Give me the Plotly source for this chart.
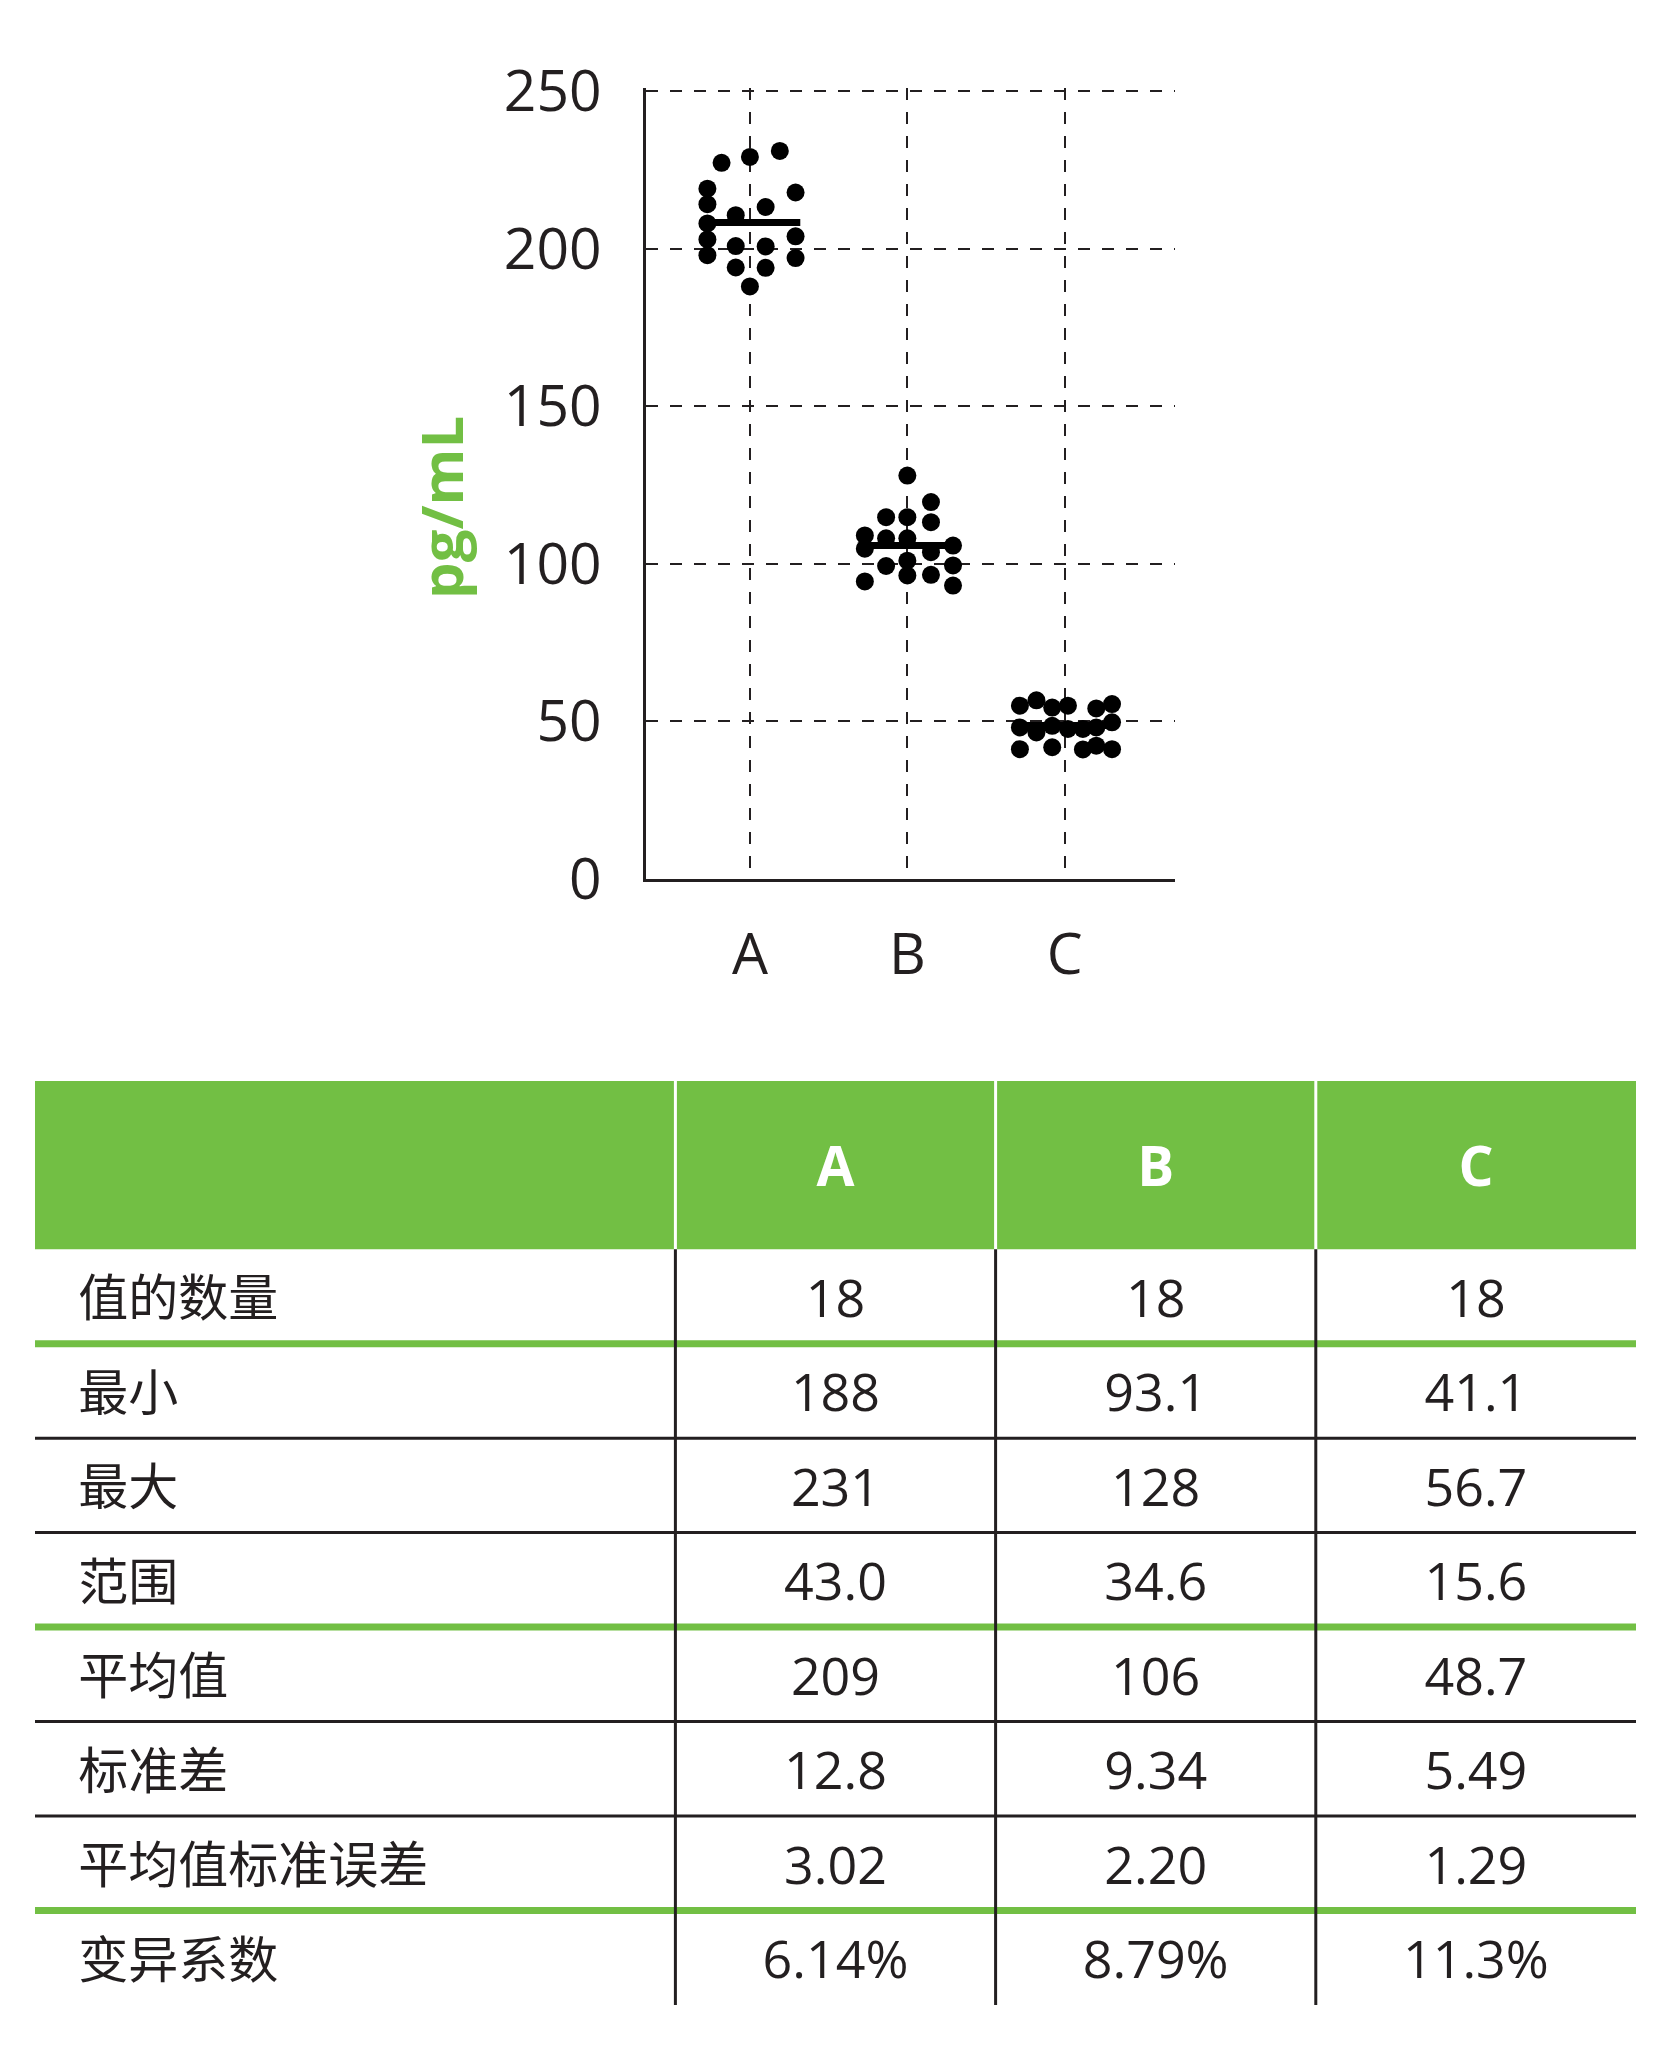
import plotly.graph_objects as go

# ---------------- data ----------------
categories = ["A", "B", "C"]

a_values = [227.2, 229.1, 231.0, 219.0, 217.8, 214.1, 213.2, 210.6, 208.0,
            202.9, 203.9, 200.8, 200.7, 197.9, 197.0, 194.0, 193.9, 188.0]
a_jitter = [-0.18, 0.0, 0.19, -0.27, 0.29, -0.27, 0.10, -0.09, -0.27,
            -0.27, 0.29, -0.09, 0.10, -0.27, 0.29, -0.09, 0.10, 0.0]

b_values = [128.0, 119.6, 114.8, 114.8, 113.2, 109.0, 108.1, 108.1, 104.8,
            103.7, 105.8, 101.0, 99.3, 99.5, 96.3, 96.5, 94.4, 93.1]
b_jitter = [0.0, 0.15, -0.135, 0.0, 0.15, -0.27, -0.135, 0.0, -0.27,
            0.15, 0.29, 0.0, -0.135, 0.29, 0.0, 0.15, -0.27, 0.29]

c_values = [55.0, 56.7, 54.4, 55.0, 54.1, 55.5,
            48.1, 46.5, 48.6, 47.6, 47.6, 48.1, 49.7,
            41.2, 41.8, 41.1, 42.3, 41.2]
c_jitter = [-0.285, -0.18, -0.08, 0.02, 0.20, 0.30,
            -0.285, -0.18, -0.08, 0.02, 0.115, 0.20, 0.30,
            -0.285, -0.08, 0.115, 0.20, 0.30]

mean_lines = [208.3, 105.8, 48.7]

y_ticks = [0, 50, 100, 150, 200, 250]

row_labels = ["值的数量", "最小", "最大", "范围", "平均值", "标准差", "平均值标准误差", "变异系数"]
col_a = ["18", "188", "231", "43.0", "209", "12.8", "3.02", "6.14%"]
col_b = ["18", "93.1", "128", "34.6", "106", "9.34", "2.20", "8.79%"]
col_c = ["18", "41.1", "56.7", "15.6", "48.7", "5.49", "1.29", "11.3%"]
green_breaks = [0, 3, 6]   # rows followed by a green separator

# ---------------- style ----------------
W, H = 1671, 2048
GREEN = "#72bf44"
INK = "#231f20"
MEAN_SPAN = (-0.26, 0.32)
HEADER_ROWS = 1.78
COL_EDGES = [0, 2, 3, 4, 5]
Y_MAX = 251
TEXT_NUDGE = 0.08   # optical baseline shift inside table cells

def px_x(p):
    return p / W

def px_y(p):
    return 1 - p / H

fig = go.Figure()

groups = [(a_values, a_jitter), (b_values, b_jitter), (c_values, c_jitter)]
for i, (vals, jit) in enumerate(groups):
    fig.add_trace(go.Scatter(
        x=[i + j for j in jit], y=vals, mode="markers",
        marker=dict(size=18, color="black"),
        xaxis="x", yaxis="y", showlegend=False, hoverinfo="skip"))
    fig.add_trace(go.Scatter(
        x=[i + MEAN_SPAN[0], i + MEAN_SPAN[1]], y=[mean_lines[i]] * 2,
        mode="lines", line=dict(color="black", width=7),
        xaxis="x", yaxis="y", showlegend=False, hoverinfo="skip"))

# ---------------- table ----------------
n_rows = len(row_labels)
shapes = []
shapes.append(dict(type="rect", xref="x2", yref="y2", x0=COL_EDGES[0], x1=COL_EDGES[-1],
                   y0=-HEADER_ROWS, y1=0, fillcolor=GREEN, line=dict(width=0), layer="below"))
for xe in COL_EDGES[1:-1]:
    shapes.append(dict(type="line", xref="x2", yref="y2", x0=xe, x1=xe,
                       y0=-HEADER_ROWS, y1=0, line=dict(color="white", width=3), layer="below"))
for r in range(n_rows - 1):
    if r in green_breaks:
        ln = dict(color=GREEN, width=7)
    else:
        ln = dict(color=INK, width=3)
    shapes.append(dict(type="line", xref="x2", yref="y2", x0=COL_EDGES[0], x1=COL_EDGES[-1],
                       y0=r + 1, y1=r + 1, line=ln, layer="below"))
for xe in COL_EDGES[1:-1]:
    shapes.append(dict(type="line", xref="x2", yref="y2", x0=xe, x1=xe,
                       y0=0, y1=n_rows, line=dict(color=INK, width=3), layer="below"))

row_centers = [r + 0.5 + TEXT_NUDGE for r in range(n_rows)]

fig.add_trace(go.Scatter(
    x=[COL_EDGES[0] + 0.135] * n_rows, y=row_centers, text=row_labels,
    mode="text", textposition="middle right",
    textfont=dict(family="Noto Sans CJK SC", size=50, color=INK),
    xaxis="x2", yaxis="y2", showlegend=False, hoverinfo="skip"))

for k, col in enumerate([col_a, col_b, col_c]):
    cx = (COL_EDGES[k + 1] + COL_EDGES[k + 2]) / 2
    fig.add_trace(go.Scatter(
        x=[cx] * n_rows, y=row_centers, text=col,
        mode="text", textposition="middle center",
        textfont=dict(family="Open Sans", size=52, color=INK),
        xaxis="x2", yaxis="y2", showlegend=False, hoverinfo="skip"))

fig.add_trace(go.Scatter(
    x=[(COL_EDGES[k + 1] + COL_EDGES[k + 2]) / 2 for k in range(3)],
    y=[-HEADER_ROWS / 2 + TEXT_NUDGE] * 3, text=categories,
    mode="text", textposition="middle center",
    textfont=dict(family="Open Sans", size=55, color="white", weight="bold"),
    xaxis="x2", yaxis="y2", showlegend=False, hoverinfo="skip"))

tick_font = dict(family="Open Sans", size=57, color=INK)
y_top_px = 879 - Y_MAX * (879 - 91) / 250

fig.update_layout(
    width=W, height=H, autosize=False,
    margin=dict(l=0, r=0, t=0, b=0, pad=0),
    paper_bgcolor="white", plot_bgcolor="rgba(0,0,0,0)",
    xaxis=dict(domain=[px_x(646), px_x(1175)], range=[-0.66, 2.70],
               tickvals=[0, 1, 2], ticktext=categories, tickfont=tick_font,
               showgrid=True, gridcolor=INK, gridwidth=2, griddash="12px,12px",
               showline=True, linecolor=INK, linewidth=3, zeroline=False,
               ticks="", ticklabelstandoff=24, automargin=False, fixedrange=True),
    yaxis=dict(domain=[px_y(879), px_y(y_top_px)], range=[0, Y_MAX],
               tickvals=y_ticks, tickfont=tick_font,
               showgrid=True, gridcolor=INK, gridwidth=2, griddash="12px,12px",
               showline=True, linecolor=INK, linewidth=3, zeroline=False,
               ticks="", ticklabelstandoff=30, automargin=False, fixedrange=True),
    xaxis2=dict(domain=[px_x(35), px_x(1636)], range=[COL_EDGES[0], COL_EDGES[-1]],
                visible=False, automargin=False, fixedrange=True),
    yaxis2=dict(domain=[px_y(2005), px_y(1081)], range=[n_rows, -HEADER_ROWS],
                visible=False, automargin=False, fixedrange=True),
    shapes=shapes,
    annotations=[dict(text="<b>pg/mL</b>", textangle=-90, xref="paper", yref="paper",
                      x=px_x(440), y=px_y(507), xanchor="center", yanchor="middle",
                      showarrow=False,
                      font=dict(family="Open Sans", size=58, color=GREEN))],
)

fig.write_html("out.html", config={"responsive": False, "displayModeBar": False},
               post_script="document.body.style.margin='0';")
